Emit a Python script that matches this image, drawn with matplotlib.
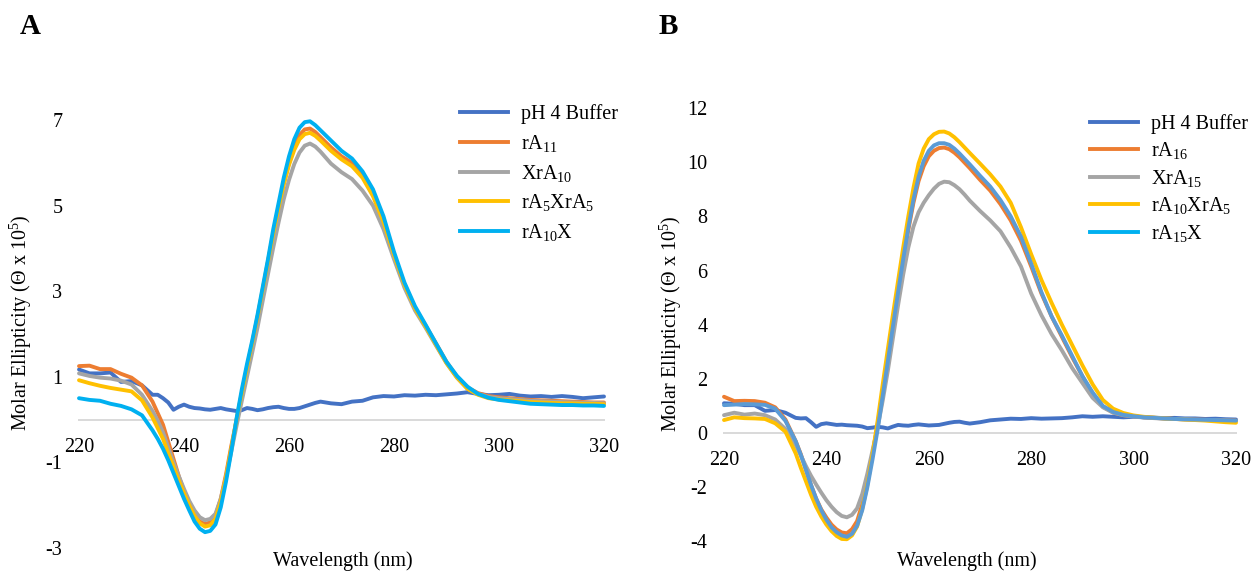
import matplotlib
matplotlib.use("Agg")
import matplotlib.pyplot as plt
from matplotlib.lines import Line2D

plt.rcParams["font.family"] = ["Liberation Serif", "DejaVu Serif"]
plt.rcParams["mathtext.fontset"] = "custom"
plt.rcParams["mathtext.rm"] = "Liberation Serif"
plt.rcParams["mathtext.it"] = "Liberation Serif:italic"
plt.rcParams["mathtext.bf"] = "Liberation Serif:bold"
plt.rcParams["axes.unicode_minus"] = False

# ---------------- data ----------------
wavelength = [220, 222, 224, 226, 228, 230, 232,
              234, 235, 236, 237, 238, 239, 240, 241, 242, 243,
              244, 245, 246, 247, 248, 249, 250, 251, 252, 253,
              254, 255, 256, 257, 258, 259, 260, 261, 262, 263,
              264, 265, 266, 267, 268,
              270, 272, 274, 276, 278,
              280, 282, 284, 286, 288, 290, 292, 294, 296, 298,
              300, 302, 304, 306, 308, 310, 312, 314, 316, 318,
              320]

# Panel A
A_buffer = [1.17, 1.08, 1.08, 1.10, 0.88, 0.90, 0.80,
            0.58, 0.58, 0.50, 0.40, 0.23, 0.30, 0.35, 0.30, 0.27, 0.26,
            0.24, 0.23, 0.25, 0.27, 0.24, 0.22, 0.20, 0.22, 0.27, 0.25,
            0.22, 0.24, 0.27, 0.29, 0.30, 0.27, 0.25, 0.25, 0.27, 0.31,
            0.35, 0.39, 0.42, 0.40, 0.38,
            0.36, 0.42, 0.44, 0.52, 0.55,
            0.54, 0.57, 0.56, 0.58, 0.57, 0.59, 0.61, 0.64, 0.60, 0.57,
            0.58, 0.60, 0.56, 0.54, 0.55, 0.53, 0.55, 0.53, 0.50, 0.52,
            0.54]
A_rA11 = [1.25, 1.26, 1.18, 1.18, 1.07, 0.98, 0.80,
          0.42, 0.15, -0.12, -0.52, -0.92, -1.32, -1.68, -1.98, -2.22, -2.38,
          -2.44, -2.40, -2.25, -1.85, -1.28, -0.62, -0.02, 0.60, 1.20, 1.78,
          2.38, 3.02, 3.68, 4.33, 4.95, 5.52, 6.00, 6.38, 6.65, 6.78,
          6.80, 6.72, 6.60, 6.48, 6.36,
          6.15, 6.00, 5.70, 5.25, 4.65,
          3.85, 3.15, 2.60, 2.20, 1.78, 1.35, 1.00, 0.75, 0.62, 0.55,
          0.52, 0.50, 0.48, 0.46, 0.45, 0.44, 0.43, 0.42, 0.41, 0.40,
          0.40]
A_XrA10 = [1.08, 1.02, 0.98, 0.96, 0.91, 0.82, 0.58,
           0.20, -0.03, -0.30, -0.65, -1.00, -1.32, -1.62, -1.90, -2.12, -2.28,
           -2.35, -2.32, -2.20, -1.85, -1.35, -0.75, -0.15, 0.43, 1.00, 1.57,
           2.15, 2.78, 3.40, 4.02, 4.60, 5.15, 5.60, 5.97, 6.24, 6.40,
           6.45, 6.38, 6.26, 6.12, 5.98,
           5.78, 5.62, 5.35, 5.00, 4.45,
           3.75, 3.08, 2.55, 2.15, 1.73, 1.32, 0.98, 0.72, 0.60, 0.53,
           0.50, 0.48, 0.46, 0.44, 0.43, 0.42, 0.41, 0.40, 0.39, 0.39,
           0.38]
A_rA5XrA5 = [0.92, 0.85, 0.79, 0.74, 0.70, 0.66, 0.45,
             0.05, -0.20, -0.45, -0.78, -1.10, -1.42, -1.72, -2.00, -2.25, -2.42,
             -2.50, -2.47, -2.32, -1.92, -1.35, -0.68, 0.00, 0.62, 1.22, 1.80,
             2.40, 3.05, 3.70, 4.35, 4.95, 5.50, 5.95, 6.30, 6.55, 6.67,
             6.70, 6.63, 6.52, 6.40, 6.28,
             6.08, 5.92, 5.65, 5.22, 4.62,
             3.85, 3.15, 2.60, 2.18, 1.75, 1.32, 0.98, 0.72, 0.58, 0.50,
             0.47, 0.45, 0.43, 0.41, 0.40, 0.39, 0.38, 0.38, 0.37, 0.37,
             0.36]
A_rA10X = [0.50, 0.46, 0.44, 0.37, 0.32, 0.24, 0.10,
           -0.25, -0.45, -0.68, -0.95, -1.25, -1.55, -1.85, -2.12, -2.38, -2.55,
           -2.63, -2.60, -2.45, -2.05, -1.45, -0.75, 0.02, 0.70, 1.30, 1.85,
           2.45, 3.10, 3.75, 4.45, 5.05, 5.65, 6.15, 6.55, 6.82, 6.95,
           6.97, 6.88, 6.76, 6.64, 6.52,
           6.28, 6.10, 5.80, 5.38, 4.75,
           3.92, 3.20, 2.65, 2.22, 1.78, 1.35, 1.02, 0.77, 0.60, 0.51,
           0.46, 0.43, 0.40, 0.37, 0.36, 0.35, 0.34, 0.34, 0.33, 0.33,
           0.32]

# Panel B
B_buffer = [1.10, 1.08, 1.03, 1.03, 0.82, 0.85, 0.75,
            0.56, 0.54, 0.55, 0.40, 0.23, 0.33, 0.36, 0.33, 0.30, 0.31,
            0.29, 0.28, 0.27, 0.24, 0.18, 0.20, 0.23, 0.21, 0.17, 0.24,
            0.30, 0.28, 0.27, 0.30, 0.32, 0.30, 0.28, 0.29, 0.30, 0.34,
            0.38, 0.41, 0.42, 0.38, 0.35,
            0.40, 0.47, 0.50, 0.53, 0.52,
            0.55, 0.53, 0.54, 0.55, 0.58, 0.62, 0.60, 0.62, 0.60, 0.58,
            0.60, 0.58, 0.57, 0.55, 0.56, 0.54, 0.54, 0.52, 0.53, 0.51,
            0.50]
B_rA16 = [1.34, 1.18, 1.19, 1.18, 1.12, 0.95, 0.50,
          -0.30, -0.78, -1.35, -1.92, -2.42, -2.82, -3.12, -3.38, -3.56, -3.67,
          -3.70, -3.55, -3.25, -2.62, -1.80, -0.80, 0.30, 1.55, 2.80, 4.05,
          5.25, 6.40, 7.50, 8.50, 9.30, 9.85, 10.22, 10.42, 10.52, 10.54,
          10.48, 10.35, 10.18, 9.98, 9.78,
          9.35, 8.95, 8.45, 7.85, 7.10,
          6.15, 5.15, 4.30, 3.55, 2.80, 2.10, 1.45, 0.98, 0.76, 0.66,
          0.62, 0.58, 0.56, 0.54, 0.52, 0.51, 0.50, 0.49, 0.48, 0.47,
          0.46]
B_XrA15 = [0.66, 0.75, 0.68, 0.72, 0.66, 0.50, 0.15,
           -0.45, -0.83, -1.22, -1.58, -1.90, -2.20, -2.48, -2.72, -2.92, -3.06,
           -3.11, -3.02, -2.78, -2.25, -1.50, -0.65, 0.20, 1.20, 2.30, 3.52,
           4.72, 5.85, 6.85, 7.62, 8.15, 8.50, 8.78, 9.02, 9.20, 9.28,
           9.26, 9.15, 9.00, 8.80, 8.58,
           8.20, 7.85, 7.45, 6.85, 6.15,
           5.15, 4.35, 3.65, 3.05, 2.40, 1.85, 1.30, 0.95, 0.75, 0.66,
           0.61, 0.58, 0.55, 0.53, 0.52, 0.50, 0.49, 0.48, 0.47, 0.46,
           0.45]
B_rA10XrA5 = [0.48, 0.58, 0.55, 0.54, 0.52, 0.36, 0.05,
              -0.75, -1.28, -1.78, -2.28, -2.72, -3.08, -3.38, -3.62, -3.80, -3.91,
              -3.92, -3.78, -3.45, -2.80, -1.92, -0.80, 0.45, 1.80, 3.10, 4.38,
              5.62, 6.85, 8.00, 9.05, 9.95, 10.50, 10.85, 11.03, 11.12, 11.13,
              11.06, 10.92, 10.74, 10.54, 10.34,
              9.95, 9.55, 9.10, 8.50, 7.60,
              6.60, 5.65, 4.80, 4.00, 3.25, 2.50, 1.80, 1.22, 0.90, 0.74,
              0.65, 0.60, 0.57, 0.54, 0.52, 0.50, 0.48, 0.46, 0.43, 0.40,
              0.38]
B_rA15X = [1.03, 1.05, 1.07, 1.06, 1.04, 0.90, 0.45,
           -0.30, -0.80, -1.35, -1.92, -2.42, -2.85, -3.20, -3.48, -3.66, -3.78,
           -3.83, -3.72, -3.42, -2.85, -2.00, -0.98, 0.12, 1.38, 2.65, 3.95,
           5.20, 6.42, 7.58, 8.62, 9.45, 10.05, 10.42, 10.62, 10.70, 10.70,
           10.64, 10.50, 10.32, 10.12, 9.92,
           9.50, 9.10, 8.60, 8.00, 7.25,
           6.25, 5.20, 4.30, 3.60, 2.85, 2.10, 1.50, 1.00, 0.78, 0.67,
           0.62, 0.58, 0.56, 0.54, 0.52, 0.51, 0.50, 0.49, 0.48, 0.47,
           0.46]

A_labels = ["pH 4 Buffer", "rA$_{11}$", "XrA$_{10}$", "rA$_{5}$XrA$_{5}$", "rA$_{10}$X"]
B_labels = ["pH 4 Buffer", "rA$_{16}$", "XrA$_{15}$", "rA$_{10}$XrA$_{5}$", "rA$_{15}$X"]
x_ticks = [220, 240, 260, 280, 300, 320]
A_yticks = [-3, -1, 1, 3, 5, 7]
B_yticks = [-4, -2, 0, 2, 4, 6, 8, 10, 12]

# ---------------- style ----------------
C_BUF = "#4472C4"
C_ORA = "#ED7D31"
C_GRA = "#A5A5A5"
C_YEL = "#FFC000"
C_CYA = "#00B0F0"
C_LBL = "#5B9BD5"
LW = 2.8
FS = 14.5

W, H = 1256, 571
fig = plt.figure(figsize=(W / 100, H / 100), dpi=100)


def add_ax(left, right, top, bottom):
    return fig.add_axes([left / W, 1 - bottom / H, (right - left) / W, (bottom - top) / H])


def style(ax, ylim, yticks):
    ax.set_xlim(220, 320)
    ax.set_ylim(*ylim)
    for s in ("top", "right", "left"):
        ax.spines[s].set_visible(False)
    ax.spines["bottom"].set_position(("data", 0))
    ax.spines["bottom"].set_color("#D9D9D9")
    ax.spines["bottom"].set_linewidth(1.4)
    ax.spines["bottom"].set_zorder(0.5)
    ax.set_xticks(x_ticks)
    ax.set_yticks(yticks)
    ax.tick_params(axis="x", length=0, pad=13, labelsize=FS)
    ax.tick_params(axis="y", length=0, pad=12, labelsize=FS)
    ax.patch.set_alpha(0)


axA = add_ax(79, 604, 120, 548)
style(axA, (-3, 7), A_yticks)
seriesA = [A_buffer, A_rA11, A_XrA10, A_rA5XrA5, A_rA10X]
colorsA = [C_BUF, C_ORA, C_GRA, C_YEL, C_CYA]
for ys, c in zip(seriesA, colorsA):
    axA.plot(wavelength, ys, color=c, lw=LW, solid_capstyle="round",
             solid_joinstyle="round", clip_on=False)

axB = add_ax(724, 1236, 108, 541.4)
style(axB, (-4, 12), B_yticks)
seriesB = [B_buffer, B_rA16, B_XrA15, B_rA10XrA5, B_rA15X]
colorsB = [C_BUF, C_ORA, C_GRA, C_YEL, C_LBL]
for ys, c in zip(seriesB, colorsB):
    axB.plot(wavelength, ys, color=c, lw=LW, solid_capstyle="round",
             solid_joinstyle="round", clip_on=False)

legend_colors = [C_BUF, C_ORA, C_GRA, C_YEL, C_CYA]
handles = [Line2D([0], [0], color=c, lw=LW) for c in legend_colors]

legA = fig.legend(handles, A_labels, loc="upper left",
                  bbox_to_anchor=(460 / W, 1 - 104 / H), bbox_transform=fig.transFigure,
                  frameon=False, fontsize=FS, handlelength=2.4, handletextpad=0.65,
                  labelspacing=0.44, borderpad=0, borderaxespad=0)
legB = fig.legend(handles, B_labels, loc="upper left",
                  bbox_to_anchor=(1090 / W, 1 - 114 / H), bbox_transform=fig.transFigure,
                  frameon=False, fontsize=FS, handlelength=2.4, handletextpad=0.65,
                  labelspacing=0.32, borderpad=0, borderaxespad=0)

ylabel = "Molar Ellipticity (\u0398 x 10$^{5}$)"
fig.text(21 / W, 1 - 323 / H, ylabel, rotation=90, ha="center", va="center", fontsize=FS)
fig.text(671 / W, 1 - 324 / H, ylabel, rotation=90, ha="center", va="center", fontsize=FS)
fig.text(343 / W, 1 - 561 / H, "Wavelength (nm)", ha="center", va="center", fontsize=FS)
fig.text(967 / W, 1 - 561 / H, "Wavelength (nm)", ha="center", va="center", fontsize=FS)

fig.text(30 / W, 1 - 27 / H, "A", ha="center", va="center", fontsize=21, fontweight="bold")
fig.text(668 / W, 1 - 27 / H, "B", ha="center", va="center", fontsize=21, fontweight="bold")

fig.savefig("out.png", dpi=100)
